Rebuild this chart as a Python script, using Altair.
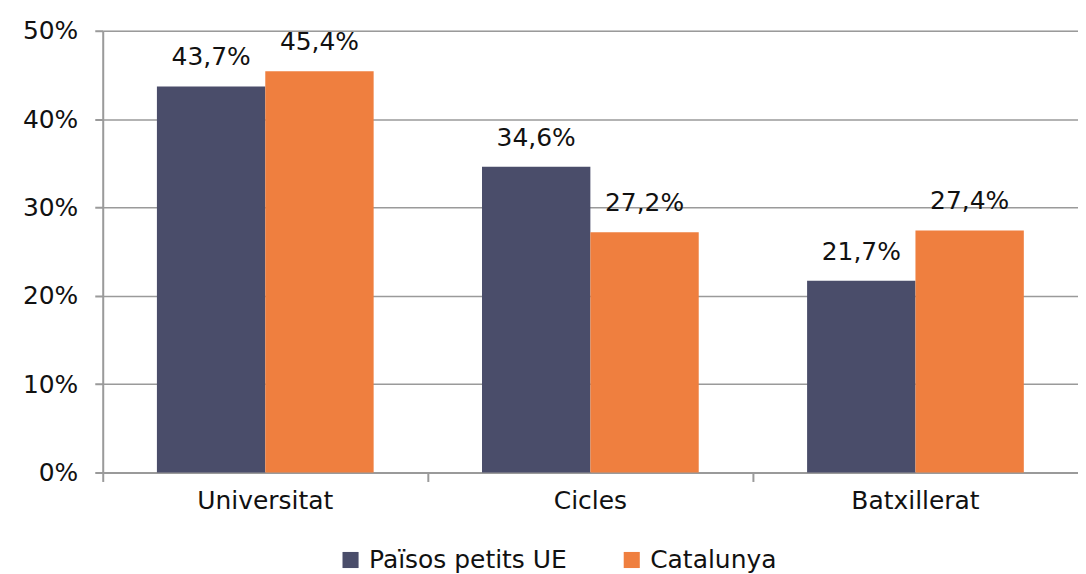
import altair as alt
import pandas as pd

categories = ["Universitat", "Cicles", "Batxillerat"]
series = ["Països petits UE", "Catalunya"]
pais_vals = [43.7, 34.6, 21.7]
cat_vals = [45.4, 27.2, 27.4]
colors = ["#4a4d6a", "#ef7f3f"]

rows = []
for c, a, b in zip(categories, pais_vals, cat_vals):
    rows.append({"cat": c, "serie": series[0], "val": a, "lab": f"{a:.1f}%".replace(".", ",")})
    rows.append({"cat": c, "serie": series[1], "val": b, "lab": f"{b:.1f}%".replace(".", ",")})
df = pd.DataFrame(rows)

FONT = "DejaVu Sans"
GRAY = "#9a9a9a"
FS = 25

x = alt.X("cat:N", sort=categories, title=None,
          scale=alt.Scale(paddingInner=0, paddingOuter=0),
          axis=alt.Axis(labelAngle=0, bandPosition=0, tickSize=9, tickColor=GRAY, tickWidth=2,
                        domainColor=GRAY, domainWidth=2, labelFontSize=FS, labelFont=FONT,
                        labelColor="#111", labelPadding=7, grid=False))
xo = alt.XOffset("serie:N", sort=series, scale=alt.Scale(paddingInner=0, paddingOuter=0.5))
y = alt.Y("val:Q", title=None,
          scale=alt.Scale(domain=[0, 50], nice=False),
          axis=alt.Axis(values=[0, 10, 20, 30, 40, 50], labelExpr="datum.value + '%'",
                        tickSize=8, tickColor=GRAY, tickWidth=2, domainColor=GRAY, domainWidth=2,
                        gridColor=GRAY, gridWidth=1.5, labelFontSize=FS, labelFont=FONT,
                        labelColor="#111", labelPadding=17))

bars = alt.Chart(df).mark_bar().encode(
    x=x, xOffset=xo, y=y,
    color=alt.Color("serie:N", sort=series, scale=alt.Scale(domain=series, range=colors),
                    legend=alt.Legend(title=None, orient="none", direction="horizontal",
                                      legendX=236, legendY=518, symbolType="square",
                                      symbolSize=260, symbolStrokeWidth=0, labelFontSize=FS,
                                      labelFont=FONT, labelColor="#111", labelOffset=6,
                                      columnPadding=52, labelLimit=400)),
)
texts = alt.Chart(df).mark_text(baseline="alphabetic", dy=-21, fontSize=FS, font=FONT, color="#111").encode(
    x=x, xOffset=xo, y=y, text="lab:N"
)

chart = alt.layer(bars, texts).properties(
    width=978, height=443,
    padding={"left": 95, "top": 22, "right": 0, "bottom": 101},
    autosize=alt.AutoSizeParams(type="none"),
).configure_view(stroke=None).configure(background="white")

chart.save("out.html", embed_options={"renderer": "svg", "actions": False})
